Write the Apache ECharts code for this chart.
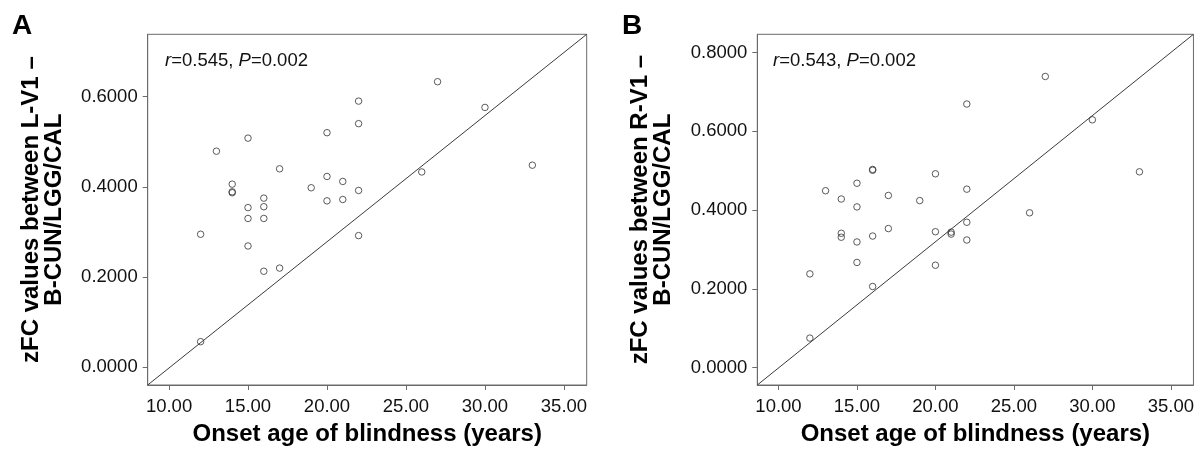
<!DOCTYPE html>
<html>
<head>
<meta charset="utf-8">
<script src="https://cdn.jsdelivr.net/npm/echarts@6/dist/echarts.min.js"></script>
<style>
html,body{margin:0;padding:0;background:#fff;}
#chart{width:1197px;height:451px;}
</style>
</head>
<body>
<div id="chart"></div>
<script>
// Panel A: onset age vs zFC (L-V1 – B-CUN/LGG/CAL)
const onsetA = [27, 22, 30, 22, 20, 15, 13, 17, 33, 26, 20, 21, 14, 14, 14, 19, 22, 16, 20, 21, 15, 16, 15, 16, 12, 22, 15, 17, 16, 12];
const zfcA   = [0.633, 0.590, 0.576, 0.540, 0.520, 0.508, 0.479, 0.440, 0.448, 0.433, 0.423, 0.412, 0.406, 0.389, 0.387, 0.398, 0.392, 0.375, 0.369, 0.372, 0.354, 0.356, 0.330, 0.330, 0.295, 0.292, 0.269, 0.220, 0.213, 0.057];
// Panel B: onset age vs zFC (R-V1 – B-CUN/LGG/CAL)
const onsetB = [27, 22, 30, 16, 16, 33, 20, 15, 13, 22, 17, 14, 19, 15, 26, 22, 17, 20, 14, 14, 21, 21, 16, 22, 15, 15, 20, 12, 16, 12];
const zfcB   = [0.739, 0.669, 0.629, 0.503, 0.501, 0.497, 0.492, 0.468, 0.449, 0.453, 0.437, 0.428, 0.424, 0.408, 0.393, 0.369, 0.353, 0.345, 0.341, 0.331, 0.344, 0.339, 0.334, 0.324, 0.319, 0.267, 0.260, 0.238, 0.206, 0.075];
// Tick labels
const xTicks  = [10, 15, 20, 25, 30, 35];
const yTicksA = [0, 0.2, 0.4, 0.6];
const yTicksB = [0, 0.2, 0.4, 0.6, 0.8];
// Axis ranges
const xRange  = [8.65, 36.44];
const yRangeA = [-0.039, 0.738];
const yRangeB = [-0.044, 0.846];
const statsA = '{i|r}=0.545, {i|P}=0.002';
const statsB = '{i|r}=0.543, {i|P}=0.002';

const FONT = "'Liberation Sans', Arial, Helvetica, sans-serif";
const AXC = '#6a6a6a';

function pts(xs, ys){ return xs.map((x,i)=>[x, ys[i]]); }

function xAxisCfg(idx){
  return {
    gridIndex: idx, type: 'value', min: xRange[0], max: xRange[1],
    name: 'Onset age of blindness (years)', nameLocation: 'middle', nameGap: 37,
    nameTextStyle: {fontFamily: FONT, fontWeight: 'bold', fontSize: 24, color: '#000'},
    axisLine: {show: true, onZero: false, lineStyle: {color: AXC, width: 1}},
    axisTick: {show: true, length: 5, lineStyle: {color: AXC}, customValues: xTicks},
    axisLabel: {show: true, margin: 12, fontFamily: FONT, fontSize: 18.5, color: '#111', customValues: xTicks,
      formatter: v => Number(v).toFixed(2)},
    splitLine: {show: false}
  };
}
function yAxisCfg(idx, range, ticks, title){
  return {
    gridIndex: idx, type: 'value', min: range[0], max: range[1],
    name: title, nameLocation: 'middle', nameRotate: 90, nameGap: 82,
    nameTextStyle: {fontFamily: FONT, fontWeight: 'bold', fontSize: 24, color: '#000', lineHeight: 23, align: 'center'},
    axisLine: {show: true, onZero: false, lineStyle: {color: AXC, width: 1}},
    axisTick: {show: true, length: 5, lineStyle: {color: AXC}, customValues: ticks},
    axisLabel: {show: true, margin: 10, fontFamily: FONT, fontSize: 18.5, color: '#111', customValues: ticks,
      formatter: v => Number(v).toFixed(4)},
    splitLine: {show: false}
  };
}
function scatterCfg(idx, data){
  return {
    type: 'scatter', xAxisIndex: idx, yAxisIndex: idx, data: data,
    symbol: 'circle', symbolSize: 6.5, silent: true,
    itemStyle: {color: 'rgba(255,255,255,0)', borderColor: '#333', borderWidth: 1},
    z: 3
  };
}
function diagCfg(idx, yr){
  return {
    type: 'line', xAxisIndex: idx, yAxisIndex: idx,
    data: [[xRange[0], yr[0]], [xRange[1], yr[1]]],
    symbol: 'none', silent: true, clip: true,
    lineStyle: {color: '#3a3a3a', width: 1}, z: 2
  };
}

const chart = echarts.init(document.getElementById('chart'), null, {renderer: 'canvas'});
chart.setOption({
  animation: false,
  backgroundColor: '#fff',
  title: [
    {text: 'A', left: 12, top: 12, padding: 0, textStyle: {fontFamily: FONT, fontWeight: 'bold', fontSize: 28, color: '#000'}},
    {text: 'B', left: 622, top: 12, padding: 0, textStyle: {fontFamily: FONT, fontWeight: 'bold', fontSize: 28, color: '#000'}},
    {text: statsA, left: 165, top: 51, padding: 0,
      textStyle: {fontFamily: FONT, fontWeight: 'normal', fontSize: 18.5, color: '#111',
        rich: {i: {fontFamily: FONT, fontStyle: 'italic', fontSize: 18.5, color: '#111'}}}},
    {text: statsB, left: 773, top: 51, padding: 0,
      textStyle: {fontFamily: FONT, fontWeight: 'normal', fontSize: 18.5, color: '#111',
        rich: {i: {fontFamily: FONT, fontStyle: 'italic', fontSize: 18.5, color: '#111'}}}}
  ],
  grid: [
    {left: 147.7, top: 34.3, width: 439, height: 350.7, show: true, borderColor: AXC, borderWidth: 1, backgroundColor: 'transparent', containLabel: false},
    {left: 757.3, top: 34.3, width: 437, height: 350.7, show: true, borderColor: AXC, borderWidth: 1, backgroundColor: 'transparent', containLabel: false}
  ],
  xAxis: [xAxisCfg(0), xAxisCfg(1)],
  yAxis: [
    yAxisCfg(0, yRangeA, yTicksA, 'zFC values between L-V1 –\nB-CUN/LGG/CAL'),
    yAxisCfg(1, yRangeB, yTicksB, 'zFC values between R-V1 –\nB-CUN/LGG/CAL')
  ],
  series: [
    diagCfg(0, yRangeA), scatterCfg(0, pts(onsetA, zfcA)),
    diagCfg(1, yRangeB), scatterCfg(1, pts(onsetB, zfcB))
  ]
});
</script>
</body>
</html>
